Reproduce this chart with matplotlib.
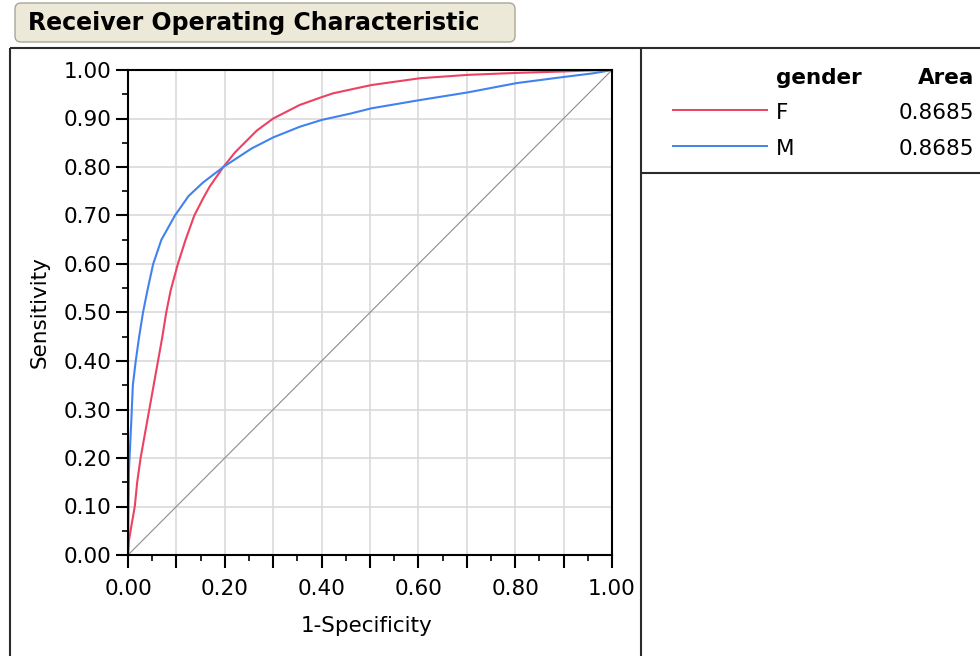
import matplotlib
matplotlib.use('Agg')
import matplotlib.pyplot as plt
from matplotlib.patches import FancyBboxPatch
from matplotlib.ticker import MultipleLocator, FuncFormatter

# ROC results per gender
groups = ['F', 'M']
areas = [0.8685, 0.8685]

# 1-specificity / sensitivity pairs
fpr_f = [0, 0.002, 0.007, 0.014, 0.019, 0.026, 0.035, 0.044, 0.053, 0.062,
         0.071, 0.079, 0.088, 0.103, 0.119, 0.137, 0.155, 0.169, 0.197, 0.221,
         0.266, 0.30, 0.355, 0.40, 0.424, 0.503, 0.603, 0.703, 0.803, 0.90,
         0.95, 1.0]
tpr_f = [0, 0.03, 0.06, 0.10, 0.15, 0.20, 0.25, 0.30, 0.35, 0.40,
         0.45, 0.50, 0.545, 0.60, 0.65, 0.70, 0.735, 0.76, 0.80, 0.83,
         0.875, 0.90, 0.928, 0.944, 0.952, 0.969, 0.983, 0.99, 0.994, 0.997,
         0.999, 1.0]

fpr_m = [0, 0.002, 0.007, 0.010, 0.016, 0.023, 0.031, 0.040, 0.052,
         0.069, 0.097, 0.125, 0.155, 0.197, 0.255, 0.30, 0.355, 0.40, 0.459,
         0.503, 0.603, 0.703, 0.803, 0.903, 0.96, 1.0]
tpr_m = [0, 0.176, 0.28, 0.35, 0.40, 0.45, 0.50, 0.545, 0.60,
         0.65, 0.70, 0.74, 0.768, 0.80, 0.838, 0.861, 0.883, 0.897, 0.91,
         0.921, 0.938, 0.954, 0.973, 0.986, 0.993, 1.0]

curves = {'F': (fpr_f, tpr_f), 'M': (fpr_m, tpr_m)}
colors = {'F': '#EC4163', 'M': '#4282EE'}

plt.rcParams['font.family'] = ['DejaVu Sans']
fs = 15.5

fig = plt.figure(figsize=(9.8, 6.56), dpi=100)

# pixel canvas for the report frame, title bar and area table
bg = fig.add_axes([0, 0, 1, 1])
bg.set_xlim(0, 980)
bg.set_ylim(656, 0)
bg.axis('off')

bar = FancyBboxPatch((15, 3), 500, 39, boxstyle='round,pad=0,rounding_size=6',
                     fc='#ECE9D8', ec='#A9A696', lw=1)
bg.add_patch(bar)
bg.text(28, 23, 'Receiver Operating Characteristic', fontsize=17,
        fontweight='bold', ha='left', va='center')

frame_kw = dict(color='#2B2B2B', lw=1.5, solid_capstyle='butt')
bg.plot([10, 980], [48, 48], **frame_kw)
bg.plot([10, 10], [48, 656], **frame_kw)
bg.plot([641, 641], [48, 656], **frame_kw)
bg.plot([641, 980], [173, 173], **frame_kw)

bg.text(776, 78, 'gender', fontsize=fs, fontweight='bold', ha='left', va='center')
bg.text(974, 78, 'Area', fontsize=fs, fontweight='bold', ha='right', va='center')
for i, (g, a) in enumerate(zip(groups, areas)):
    y = 110 + 36 * i
    bg.plot([673, 767], [y, y], color=colors[g], lw=1.4)
    bg.text(776, y + 3, g, fontsize=fs, ha='left', va='center')
    bg.text(974, y + 3, f'{a:.4f}', fontsize=fs, ha='right', va='center')

# ROC plot
ax = fig.add_axes([128 / 980, 101 / 656, 484 / 980, 485 / 656])
ax.plot([0, 1], [0, 1], color='#8C8C8C', lw=0.8)
for g in groups:
    fx, sy = curves[g]
    ax.plot(fx, sy, color=colors[g], lw=1.5)

ax.set_xlim(0, 1)
ax.set_ylim(0, 1)
ax.xaxis.set_major_locator(MultipleLocator(0.1))
ax.xaxis.set_minor_locator(MultipleLocator(0.05))
ax.yaxis.set_major_locator(MultipleLocator(0.1))
ax.yaxis.set_minor_locator(MultipleLocator(0.05))
ax.xaxis.set_major_formatter(FuncFormatter(
    lambda v, p: f'{v:.2f}' if round(v * 10) % 2 == 0 else ''))
ax.yaxis.set_major_formatter(FuncFormatter(lambda v, p: f'{v:.2f}'))

ax.grid(True, which='major', color='#DADADA', lw=1.2)
ax.set_axisbelow(True)
ax.tick_params(which='major', length=9, width=1.5, labelsize=fs, pad=3)
ax.tick_params(axis='x', which='major', pad=8)
ax.tick_params(which='minor', length=4.5, width=1.2)
for s in ax.spines.values():
    s.set_linewidth(1.5)

ax.set_xlabel('1-Specificity', fontsize=fs, va='center')
ax.xaxis.set_label_coords(0.492, -0.146)
ax.set_ylabel('Sensitivity', fontsize=fs, va='center')
ax.yaxis.set_label_coords(-0.182, 0.5)

fig.savefig('out.png', dpi=100)
